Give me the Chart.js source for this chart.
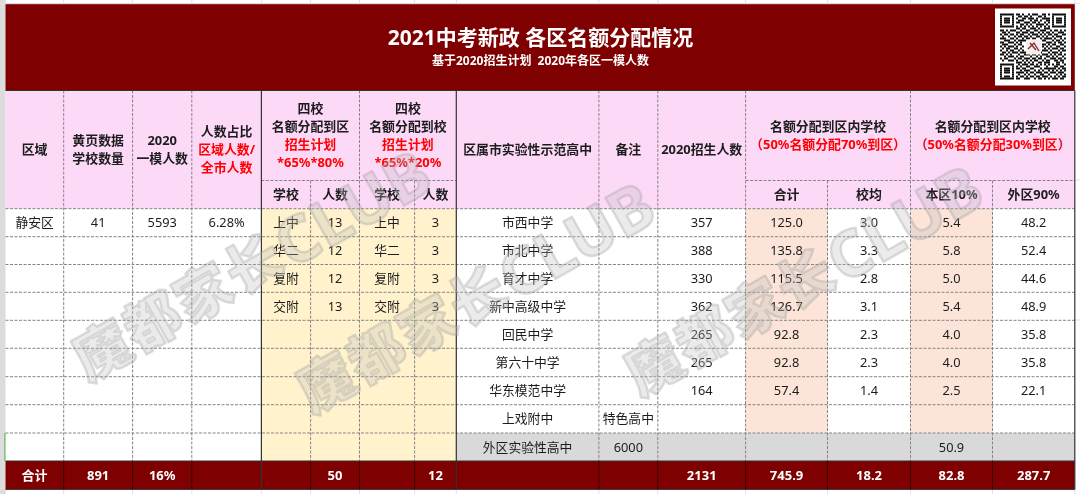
<!DOCTYPE html>
<html lang="zh">
<head>
<meta charset="utf-8">
<title>2021中考新政 各区名额分配情况</title>
<script src="https://cdn.jsdelivr.net/npm/chart.js@4/dist/chart.umd.min.js"></script>
<style>
  html, body { margin: 0; padding: 0; background: #fff; }
  canvas { display: block; }
</style>
</head>
<body>
<canvas id="sheet" width="1080" height="494"></canvas>
<script>
// table content
const titleText = '2021中考新政 各区名额分配情况';
const subtitleText = '基于2020招生计划  2020年各区一模人数';
const districtRow = ['静安区', '41', '5593', '6.28%'];
const fourSchools = ['上中', '华二', '复附', '交附'];
const quotaToDistrict = [13, 12, 12, 13];
const quotaToSchool = [3, 3, 3, 3];
const schools = ['市西中学', '市北中学', '育才中学', '新中高级中学', '回民中学', '第六十中学', '华东模范中学', '上戏附中', '外区实验性高中'];
const notes = ['', '', '', '', '', '', '', '特色高中', '6000'];
const enrolment = [357, 388, 330, 362, 265, 265, 164];
const districtTotal = ['125.0', '135.8', '115.5', '126.7', '92.8', '92.8', '57.4'];
const schoolAverage = ['3.0', '3.3', '2.8', '3.1', '2.3', '2.3', '1.4'];
const localShare = ['5.4', '5.8', '5.0', '5.4', '4.0', '4.0', '2.5', '', '50.9'];
const outsideShare = ['48.2', '52.4', '44.6', '48.9', '35.8', '35.8', '22.1'];
const totalRow = ['合计', '891', '16%', '', '', '50', '', '12', '', '', '2131', '745.9', '18.2', '82.8', '287.7'];

// sheet geometry, in sheet units (1 unit = 1px)
const colEdges = [5.5, 63.7, 132.6, 191.8, 261.4, 310.6, 359.5, 414.6, 456.3, 598.9, 657.8, 745.6, 827.5, 910.5, 992.5, 1074.8];
const rowEdges = [208.7, 236.7, 264.5, 292.3, 320.3, 348.3, 376.7, 404.7, 433, 461, 489.5];
const titleTop = 3.7, headTop = 90.5, subHeadTop = 180.5;

const DARK_RED = '#7f0000', PINK = '#fdd9f8', CREAM = '#fff2cc', PEACH = '#fde4d8', GREY = '#d9d9d9', RED = '#ff0000', INK = '#1c1c1c';
const FONT = '"Noto Sans", "Noto Sans CJK SC", sans-serif';

// qr code
const qrRows = [
  '111111101101001011100110101111111',
  '100000100110110100011010001000001',
  '101110101001101110100111101011101',
  '101110100111000101101001101011101',
  '101110101100111011010010101011101',
  '100000100011010100111101001000001',
  '111111101010101010101010101111111',
  '000000001101100111010011100000000',
  '110101110010011001101110010110101',
  '011010001101110110010101101001110',
  '101101101011001011101010110110011',
  '010010010110110100110101001011100',
  '111001101001011011001011110100101',
  '001110010111100000000110001011010',
  '110011101010000000000001110101101',
  '011100010110000000000110101100110',
  '101011101001000000000101010011001',
  '010110011010000000000010101110110',
  '100101100101000000000111010001011',
  '011010111011100000001000101110100',
  '110101000100111011010111010101101',
  '001011101011000100101001101010010',
  '101100010110111011011010011101101',
  '010011101001010101100101100110110',
  '000000001110101010011011100011010',
  '111111100101110110101010101011001',
  '100000101010011001110001000110110',
  '101110101101100110001011111101011',
  '101110100010111001010100101010101',
  '101110101111010110111011011101110',
  '100000100100101001001100100010101',
  '101110101011010110110111010101011',
  '111111101100111001011010101110110'
];

const colCenter = i => (colEdges[i] + colEdges[i + 1]) / 2;
const spanCenter = (a, b) => (colEdges[a] + colEdges[b]) / 2;
const rowCenter = i => (rowEdges[i] + rowEdges[i + 1]) / 2;

// background fills are floating bars, one dataset each
const fills = [
  [0, 5.5, 0, 494, '#dcdcdc'],
  [5.5, 1074.8, titleTop, headTop, DARK_RED],
  [5.5, 1074.8, headTop, rowEdges[0], PINK],
  [colEdges[4], colEdges[8], rowEdges[0], rowEdges[9], CREAM],
  [colEdges[11], colEdges[12], rowEdges[0], rowEdges[8], PEACH],
  [colEdges[13], colEdges[14], rowEdges[0], rowEdges[8], PEACH],
  [colEdges[8], colEdges[15], rowEdges[8], rowEdges[9], GREY],
  [5.5, 1074.8, rowEdges[9], rowEdges[10], DARK_RED],
  [995, 1071, 8.5, 85.5, '#ffffff']
];

const fillSets = fills.map(([x0, x1, y0, y1, color], i) => ({
  type: 'bar',
  data: [{ x: (x0 + x1) / 2, y: [y0, y1] }],
  barThickness: x1 - x0,
  grouped: false,
  inflateAmount: 0,
  borderWidth: 0,
  borderSkipped: false,
  backgroundColor: color,
  order: 100 - i
}));

// every text sits on an invisible scatter point
const bodyCells = [], boldCells = [], redCells = [], whiteCells = [];

const put = (list, x, y, text) => {
  if (text !== '' && text !== undefined) list.push({ x: x, y: y, text: String(text) });
};

put(boldCells, colCenter(0), 150.5, '区域');
put(boldCells, colCenter(1), 141.5, '黄页数据');
put(boldCells, colCenter(1), 159.5, '学校数量');
put(boldCells, colCenter(2), 141.5, '2020');
put(boldCells, colCenter(2), 159.5, '一模人数');
put(boldCells, colCenter(3), 132.5, '人数占比');
put(redCells, colCenter(3), 150.5, '区域人数/');
put(redCells, colCenter(3), 168.5, '全市人数');
put(boldCells, spanCenter(4, 6), 109, '四校');
put(boldCells, spanCenter(4, 6), 127, '名额分配到区');
put(redCells, spanCenter(4, 6), 145.5, '招生计划');
put(redCells, spanCenter(4, 6), 163.5, '*65%*80%');
put(boldCells, spanCenter(6, 8), 109, '四校');
put(boldCells, spanCenter(6, 8), 127, '名额分配到校');
put(redCells, spanCenter(6, 8), 145.5, '招生计划');
put(redCells, spanCenter(6, 8), 163.5, '*65%*20%');
['学校', '人数', '学校', '人数'].forEach((t, i) => put(boldCells, colCenter(4 + i), 195, t));
put(boldCells, colCenter(8), 150.5, '区属市实验性示范高中');
put(boldCells, colCenter(9), 150.5, '备注');
put(boldCells, colCenter(10), 150.5, '2020招生人数');
put(boldCells, spanCenter(11, 13), 127, '名额分配到区内学校');
put(redCells, spanCenter(11, 13), 145.5, '（50%名额分配70%到区）');
put(boldCells, spanCenter(13, 15), 127, '名额分配到区内学校');
put(redCells, spanCenter(13, 15), 145.5, '（50%名额分配30%到区）');
['合计', '校均', '本区10%', '外区90%'].forEach((t, i) => put(boldCells, colCenter(11 + i), 195, t));

const bodyY = i => rowCenter(i) + 1;
districtRow.forEach((t, i) => put(bodyCells, colCenter(i), bodyY(0), t));
fourSchools.forEach((t, i) => {
  put(bodyCells, colCenter(4), bodyY(i), t);
  put(bodyCells, colCenter(5), bodyY(i), quotaToDistrict[i]);
  put(bodyCells, colCenter(6), bodyY(i), t);
  put(bodyCells, colCenter(7), bodyY(i), quotaToSchool[i]);
});
schools.forEach((t, i) => put(bodyCells, colCenter(8), bodyY(i), t));
notes.forEach((t, i) => put(bodyCells, colCenter(9), bodyY(i), t));
enrolment.forEach((t, i) => put(bodyCells, colCenter(10), bodyY(i), t));
districtTotal.forEach((t, i) => put(bodyCells, colCenter(11), bodyY(i), t));
schoolAverage.forEach((t, i) => put(bodyCells, colCenter(12), bodyY(i), t));
localShare.forEach((t, i) => put(bodyCells, colCenter(13), bodyY(i), t));
outsideShare.forEach((t, i) => put(bodyCells, colCenter(14), bodyY(i), t));
totalRow.forEach((t, i) => put(whiteCells, colCenter(i), bodyY(9), t));

const titleCells = [{ x: 540.5, y: 39, text: titleText }];
const subtitleCells = [{ x: 540.5, y: 61.5, text: subtitleText }];

const textSet = (cells, font, color) => ({
  type: 'scatter',
  data: cells,
  pointRadius: 0,
  labelFont: font,
  labelColor: color,
  order: 0
});

const textSets = [
  textSet(bodyCells, '12.8px ' + FONT, INK),
  textSet(boldCells, 'bold 12.9px ' + FONT, INK),
  textSet(redCells, 'bold 12.9px ' + FONT, RED),
  textSet(whiteCells, 'bold 13px ' + FONT, '#ffffff'),
  textSet(titleCells, 'bold 21px ' + FONT, '#ffffff'),
  textSet(subtitleCells, 'bold 12px ' + FONT, '#ffffff')
];

const sheetLines = {
  id: 'sheetLines',
  afterDatasetsDraw(chart) {
    const { ctx, scales } = chart;
    const X = v => scales.x.getPixelForValue(v);
    const Y = v => scales.y.getPixelForValue(v);
    const seg = (x0, y0, x1, y1) => {
      ctx.beginPath();
      ctx.moveTo(X(x0), Y(y0));
      ctx.lineTo(X(x1), Y(y1));
      ctx.stroke();
    };
    ctx.save();

    // faint sheet grid outside the table
    ctx.strokeStyle = '#e2e2e2';
    ctx.lineWidth = 1;
    colEdges.forEach(x => { seg(x, 0, x, titleTop); seg(x, 490, x, 494); });
    seg(0, titleTop, 1080, titleTop);
    seg(1075, 180, 1080, 180);
    seg(1075, 320, 1080, 320);

    // dashed cell borders
    ctx.strokeStyle = '#858585';
    ctx.setLineDash([3, 1.5]);
    rowEdges.slice(0, 9).forEach(y => seg(5.5, y, 1074.8, y));
    seg(colEdges[4], subHeadTop, colEdges[8], subHeadTop);
    seg(colEdges[11], subHeadTop, colEdges[15], subHeadTop);
    [1, 2, 3, 6, 9, 10, 11, 13].forEach(i => seg(colEdges[i], headTop, colEdges[i], rowEdges[9]));
    [5, 7, 12, 14].forEach(i => seg(colEdges[i], subHeadTop, colEdges[i], rowEdges[9]));
    ctx.setLineDash([]);

    // thin lines in the total row
    ctx.strokeStyle = 'rgba(30,0,0,0.75)';
    colEdges.slice(1, 15).forEach(x => seg(x, rowEdges[9], x, rowEdges[10]));

    // solid borders
    ctx.strokeStyle = '#333333';
    ctx.lineWidth = 1.2;
    seg(5.5, headTop, 1074.8, headTop);
    seg(colEdges[4], headTop, colEdges[4], rowEdges[10]);
    seg(colEdges[8], headTop, colEdges[8], rowEdges[10]);
    seg(1074.8, headTop, 1074.8, rowEdges[10]);
    seg(5.5, rowEdges[9], 1074.8, rowEdges[9]);
    ctx.strokeStyle = '#3a3a3a';
    seg(5.5, rowEdges[10], 1074.8, rowEdges[10]);

    // selected row marker in the gutter
    ctx.strokeStyle = '#7cc47c';
    ctx.lineWidth = 1.5;
    seg(4.8, rowEdges[8], 4.8, rowEdges[9]);
    ctx.restore();
  }
};

const cellLabels = {
  id: 'cellLabels',
  afterDraw(chart) {
    const { ctx } = chart;
    ctx.save();
    ctx.textAlign = 'center';
    ctx.textBaseline = 'middle';
    chart.data.datasets.forEach((set, i) => {
      if (set.type !== 'scatter') return;
      ctx.font = set.labelFont;
      ctx.fillStyle = set.labelColor;
      chart.getDatasetMeta(i).data.forEach((pt, j) => {
        ctx.fillText(set.data[j].text, pt.x, pt.y);
      });
    });
    ctx.restore();
  }
};

const qrCode = {
  id: 'qrCode',
  afterDraw(chart) {
    const { ctx, scales } = chart;
    const X = v => scales.x.getPixelForValue(v);
    const Y = v => scales.y.getPixelForValue(v);
    const size = 2;
    ctx.save();
    ctx.filter = 'blur(0.5px)';
    ctx.fillStyle = '#111111';
    qrRows.forEach((row, r) => {
      [...row].forEach((bit, c) => {
        if (bit === '1') ctx.fillRect(X(1000 + c * size), Y(13.5 + r * size), size, size);
      });
    });
    ctx.fillStyle = '#f4eeee';
    ctx.fillRect(X(1026), Y(39.5), 15, 15);
    ctx.strokeStyle = '#8a2a2e';
    ctx.lineWidth = 1.4;
    ctx.beginPath();
    ctx.moveTo(X(1028), Y(49));
    ctx.lineTo(X(1034), Y(43));
    ctx.lineTo(X(1039), Y(51));
    ctx.moveTo(X(1030), Y(43));
    ctx.lineTo(X(1036), Y(50));
    ctx.stroke();
    ctx.restore();
  }
};

// 魔 start of each watermark
const watermarks = [[80, 368], [304, 400], [632, 383]];

const watermark = {
  id: 'watermark',
  afterDraw(chart) {
    const { ctx, scales } = chart;
    ctx.save();
    ctx.textAlign = 'left';
    ctx.textBaseline = 'middle';
    ctx.lineJoin = 'round';
    watermarks.forEach(([x, y]) => {
      ctx.save();
      ctx.translate(scales.x.getPixelForValue(x), scales.y.getPixelForValue(y));
      ctx.rotate(-29.5 * Math.PI / 180);
      ctx.lineWidth = 2.5;
      ctx.strokeStyle = 'rgba(150,150,150,0.32)';
      ctx.fillStyle = 'rgba(190,190,190,0.3)';
      ctx.font = '900 56px ' + FONT;
      ctx.letterSpacing = '2px';
      ctx.strokeText('魔都家长', 0, 0);
      ctx.fillText('魔都家长', 0, 0);
      const offset = ctx.measureText('魔都家长').width;
      ctx.font = 'bold 64px ' + FONT;
      ctx.letterSpacing = '0px';
      ctx.strokeText('CLUB', offset, 0);
      ctx.fillText('CLUB', offset, 0);
      ctx.restore();
    });
    ctx.restore();
  }
};

new Chart(document.getElementById('sheet'), {
  type: 'bar',
  data: { datasets: fillSets.concat(textSets) },
  options: {
    responsive: false,
    devicePixelRatio: 1,
    animation: false,
    layout: { padding: 0 },
    plugins: { legend: { display: false }, tooltip: { enabled: false }, title: { display: false } },
    scales: {
      x: { type: 'linear', min: 0, max: 1080, offset: false, display: false },
      y: { type: 'linear', min: 0, max: 494, reverse: true, display: false }
    }
  },
  plugins: [sheetLines, qrCode, cellLabels, watermark]
});
</script>
</body>
</html>
